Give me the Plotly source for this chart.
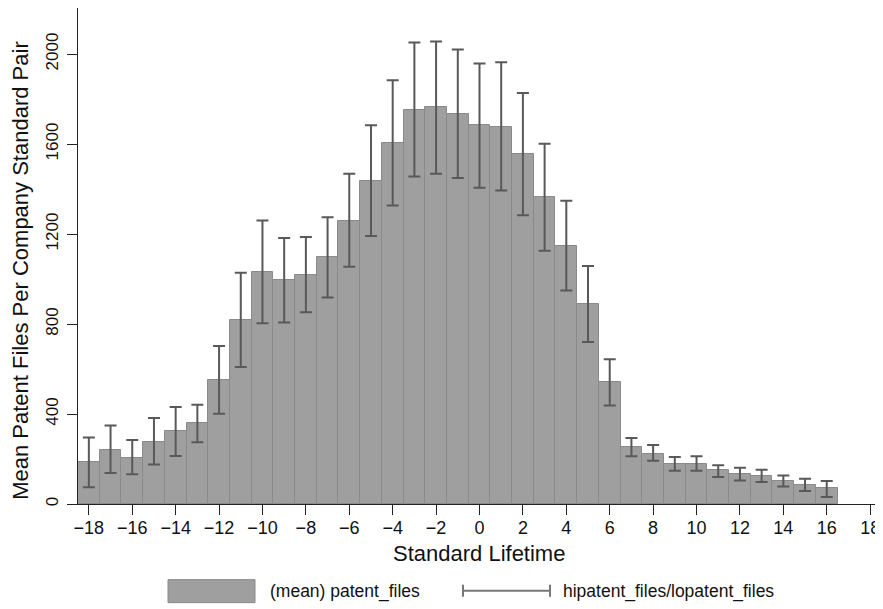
import plotly.graph_objects as go

lifetime = list(range(-18, 17))
mean_files = [188, 241, 206, 277, 323, 358, 551, 819, 1031, 995, 1016, 1099, 1260, 1435,
              1606, 1752, 1763, 1736, 1684, 1678, 1557, 1364, 1149, 890, 542, 252, 224,
              178, 178, 149, 135, 124, 104, 86, 69]
hi_files = [296, 349, 284, 382, 431, 441, 702, 1028, 1260, 1182, 1187, 1275, 1468, 1684,
            1884, 2052, 2056, 2020, 1958, 1964, 1827, 1601, 1348, 1058, 644, 293, 262,
            209, 212, 172, 161, 152, 127, 112, 102]
lo_files = [75, 138, 132, 176, 213, 274, 401, 609, 803, 807, 852, 918, 1055, 1191,
            1327, 1456, 1468, 1449, 1406, 1394, 1284, 1126, 949, 720, 438, 212, 192,
            148, 148, 120, 105, 98, 78, 58, 31]
x_ticks = list(range(-18, 19, 2))
y_ticks = [0, 400, 800, 1200, 1600, 2000]

FONT = "Liberation Sans, Arial, sans-serif"
BAR_FILL = "#9f9f9f"
BAR_EDGE = "#8a8a8a"
ERR_COL = "#595959"

fig = go.Figure()
fig.add_trace(go.Bar(
    x=lifetime, y=mean_files, width=1.0,
    marker=dict(color=BAR_FILL, line=dict(color=BAR_EDGE, width=1)),
    error_y=dict(type="data", symmetric=False,
                 array=[h - m for h, m in zip(hi_files, mean_files)],
                 arrayminus=[m - l for m, l in zip(mean_files, lo_files)],
                 color=ERR_COL, thickness=2, width=6),
    name="(mean) patent_files", showlegend=False,
))

# the page body adds an 8px offset; plot area in page pixels: x 78..881, y 8..504.3
L = 78.0
W = 803.0
Y0 = 504.3
H = 496.3
def px(xp):
    return (xp - L) / W
def py(yp):
    return (Y0 - yp) / H

LEG_COL = "#777777"
shapes = [
    dict(type="rect", xref="paper", yref="paper", x0=px(168), x1=px(255), y0=py(603), y1=py(580),
         fillcolor=BAR_FILL, line=dict(color=BAR_EDGE, width=1)),
    dict(type="line", xref="paper", yref="paper", x0=px(463), x1=px(550), y0=py(591), y1=py(591),
         line=dict(color=LEG_COL, width=2)),
    dict(type="line", xref="paper", yref="paper", x0=px(463), x1=px(463), y0=py(585), y1=py(597),
         line=dict(color=LEG_COL, width=2)),
    dict(type="line", xref="paper", yref="paper", x0=px(550), x1=px(550), y0=py(585), y1=py(597),
         line=dict(color=LEG_COL, width=2)),
]
annotations = [
    dict(text="(mean) patent_files", xref="paper", yref="paper", x=px(268), y=py(591.5),
         xanchor="left", yanchor="middle", showarrow=False, font=dict(size=17.5, color="#111")),
    dict(text="hipatent_files/lopatent_files", xref="paper", yref="paper", x=px(561), y=py(591.5),
         xanchor="left", yanchor="middle", showarrow=False, font=dict(size=17.5, color="#111")),
    dict(text="Standard Lifetime", xref="paper", yref="paper", x=px(479), y=py(554),
         xanchor="center", yanchor="middle", showarrow=False, font=dict(size=22, color="#111")),
    dict(text="Mean Patent Files Per Company Standard Pair", xref="paper", yref="paper",
         x=px(21), y=py(271), textangle=-90,
         xanchor="center", yanchor="middle", showarrow=False, font=dict(size=22, color="#111")),
]

fig.update_layout(
    width=875, height=601,
    margin=dict(l=70, r=2, t=0, b=104.7, pad=0, autoexpand=False),
    paper_bgcolor="white", plot_bgcolor="white",
    font=dict(family=FONT, color="#111"),
    bargap=0,
    shapes=shapes, annotations=annotations,
    showlegend=False,
    xaxis=dict(range=[-18.5, 18.5], tickvals=x_ticks, ticks="outside", ticklen=10,
               tickcolor="#222", showline=True, linecolor="#222", linewidth=1,
               showgrid=False, zeroline=False, tickfont=dict(size=18), automargin=False,
               ticklabelstandoff=-3),
    yaxis=dict(range=[0, 2205], tickvals=y_ticks, ticks="outside", ticklen=10,
               tickcolor="#222", showline=True, linecolor="#222", linewidth=1,
               showgrid=False, zeroline=False, tickfont=dict(size=17), tickangle=-90,
               automargin=False, ticklabelstandoff=2),
)

fig.write_html("out.html")
